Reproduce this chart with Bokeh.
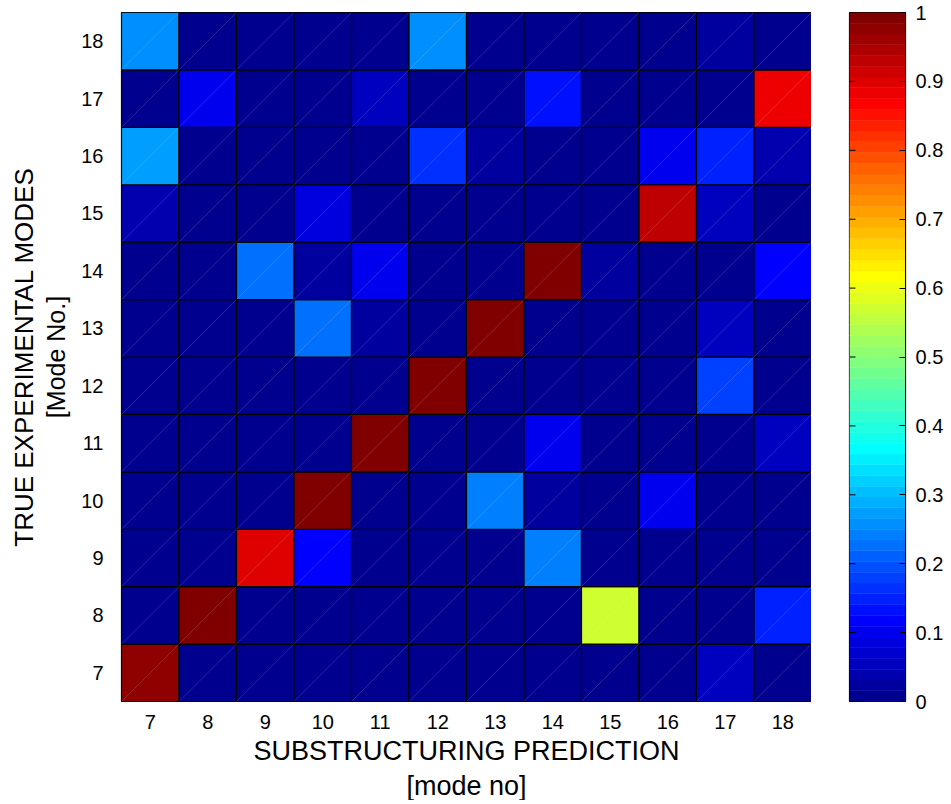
import numpy as np
from bokeh.plotting import figure
from bokeh.models import (ColumnDataSource, FixedTicker, LinearColorMapper, Title,
                          CustomJSTickFormatter)
from bokeh.layouts import row
from bokeh.embed import file_html
from bokeh.resources import INLINE

# ---------------- data ----------------
pred_modes = [7, 8, 9, 10, 11, 12, 13, 14, 15, 16, 17, 18]
true_modes = [7, 8, 9, 10, 11, 12, 13, 14, 15, 16, 17, 18]

# values per true experimental mode, across predicted modes 7..18
true_7  = [0.977, 0.01, 0.01, 0.01, 0.01, 0.01, 0.01, 0.01, 0.01, 0.01, 0.055, 0.01]
true_8  = [0.01, 1.0, 0.01, 0.01, 0.01, 0.01, 0.01, 0.01, 0.57, 0.01, 0.01, 0.155]
true_9  = [0.01, 0.01, 0.898, 0.117, 0.01, 0.01, 0.01, 0.245, 0.01, 0.01, 0.01, 0.01]
true_10 = [0.01, 0.01, 0.01, 1.0, 0.01, 0.01, 0.235, 0.025, 0.01, 0.10, 0.01, 0.01]
true_11 = [0.01, 0.01, 0.01, 0.01, 1.0, 0.01, 0.01, 0.10, 0.01, 0.01, 0.01, 0.05]
true_12 = [0.01, 0.01, 0.01, 0.01, 0.01, 1.0, 0.01, 0.01, 0.01, 0.01, 0.18, 0.01]
true_13 = [0.01, 0.01, 0.01, 0.23, 0.02, 0.01, 1.0, 0.01, 0.01, 0.01, 0.05, 0.01]
true_14 = [0.01, 0.01, 0.227, 0.025, 0.095, 0.01, 0.01, 1.0, 0.02, 0.01, 0.01, 0.117]
true_15 = [0.04, 0.01, 0.01, 0.09, 0.01, 0.01, 0.01, 0.01, 0.01, 0.93, 0.055, 0.01]
true_16 = [0.27, 0.01, 0.01, 0.01, 0.01, 0.165, 0.02, 0.01, 0.01, 0.10, 0.15, 0.04]
true_17 = [0.01, 0.10, 0.01, 0.01, 0.055, 0.01, 0.01, 0.14, 0.01, 0.01, 0.01, 0.883]
true_18 = [0.25, 0.01, 0.01, 0.01, 0.01, 0.25, 0.01, 0.01, 0.01, 0.01, 0.03, 0.01]

rows_by_mode = [true_7, true_8, true_9, true_10, true_11, true_12,
                true_13, true_14, true_15, true_16, true_17, true_18]

cbar_ticks = [0, 0.1, 0.2, 0.3, 0.4, 0.5, 0.6, 0.7, 0.8, 0.9, 1]

# ---------------- matlab jet(64) colormap ----------------
def matlab_jet(m=64):
    n = int(np.ceil(m / 4))
    u = np.concatenate([np.arange(1, n + 1) / n, np.ones(n - 1), np.arange(n, 0, -1) / n])
    g = int(np.ceil(n / 2)) - (1 if m % 4 == 1 else 0) + np.arange(1, len(u) + 1)
    r = g + n
    b = g - n
    J = np.zeros((m, 3))
    for idx, col in ((r, 0), (g, 1), (b, 2)):
        ok = (idx >= 1) & (idx <= m)
        J[idx[ok] - 1, col] = u[ok]
    return ["#%02x%02x%02x" % tuple(int(round(c * 255)) for c in rgb) for rgb in J]

jet64 = matlab_jet(64)
mapper = LinearColorMapper(palette=jet64, low=0, high=1)

# ---------------- heatmap ----------------
xs, ys, vals = [], [], []
for tm, rv in zip(true_modes, rows_by_mode):
    for pm, v in zip(pred_modes, rv):
        xs.append(pm)
        ys.append(tm)
        vals.append(v)
src = ColumnDataSource(dict(
    x=xs, y=ys, v=vals,
    x0=[x - 0.5 for x in xs], y0=[y - 0.5 for y in ys],
    x1=[x + 0.5 for x in xs], y1=[y + 0.5 for y in ys],
))

FONT = "Liberation Sans"
TOP = 12
FRAME_H = 689

p = figure(frame_width=690, frame_height=FRAME_H,
           x_range=(min(pred_modes) - 0.5, max(pred_modes) + 0.5),
           y_range=(min(true_modes) - 0.5, max(true_modes) + 0.5),
           output_backend="svg", toolbar_location=None,
           min_border_left=121, min_border_right=0, min_border_top=TOP, min_border_bottom=60)
p.rect(x="x", y="y", width=1, height=1, source=src,
       fill_color={"field": "v", "transform": mapper},
       line_color="black", line_width=1.2)
p.segment(x0="x0", y0="y0", x1="x1", y1="y1", source=src,
          line_color="white", line_alpha=0.22, line_width=0.7)

p.grid.visible = False
p.outline_line_color = "black"
p.outline_line_width = 1.2
p.background_fill_color = "white"

for ax, ticks in ((p.xaxis[0], pred_modes), (p.yaxis[0], true_modes)):
    ax.ticker = FixedTicker(ticks=ticks)
    ax.major_tick_in = 0
    ax.major_tick_out = 0
    ax.minor_tick_in = 0
    ax.minor_tick_out = 0
    ax.axis_line_color = None
    ax.major_label_text_font = FONT
    ax.major_label_text_font_size = "20px"
    ax.major_label_text_color = "black"
    ax.axis_label_text_font = FONT
    ax.axis_label_text_font_style = "normal"
    ax.axis_label_text_color = "black"

p.xaxis.major_label_standoff = 13
p.xaxis.axis_label = "SUBSTRUCTURING PREDICTION"
p.xaxis.axis_label_text_font_size = "27px"
p.xaxis.axis_label_standoff = 4

p.yaxis.major_label_standoff = 18
p.yaxis.axis_label = "[Mode No.]"
p.yaxis.axis_label_text_font_size = "25px"
p.yaxis.axis_label_standoff = 8

p.add_layout(Title(text="[mode no]", align="center", text_font=FONT,
                   text_font_size="27px", text_font_style="normal",
                   text_color="black", standoff=0, offset=0), "below")
p.add_layout(Title(text="TRUE EXPERIMENTAL MODES", align="center", text_font=FONT,
                   text_font_size="26px", text_font_style="normal",
                   text_color="black", standoff=2), "left")

# ---------------- colorbar ----------------
levels = np.linspace(0, 1, len(jet64) + 1)
cb_src = ColumnDataSource(dict(bottom=levels[:-1], top=levels[1:], color=jet64))
cb = figure(frame_width=56, frame_height=FRAME_H, x_range=(0, 1), y_range=(0, 1),
            output_backend="svg", toolbar_location=None,
            x_axis_location=None, y_axis_location="right",
            min_border_left=38, min_border_right=36, min_border_top=TOP, min_border_bottom=60)
cb.quad(left=0, right=1, bottom="bottom", top="top", color="color", source=cb_src,
        line_color="color", line_width=0.5)
# inner tick marks on the left edge of the bar
tick_len = 6 / 56
cb.segment(x0=0, x1=tick_len, y0=cbar_ticks, y1=cbar_ticks, line_color="black", line_width=1)
cb.grid.visible = False
cb.outline_line_color = "black"
cb.outline_line_width = 1.2

ax_r = cb.yaxis[0]
ax_r.ticker = FixedTicker(ticks=cbar_ticks)
ax_r.formatter = CustomJSTickFormatter(code="return String(Math.round(tick*10)/10);")
ax_r.major_tick_in = 6
ax_r.major_tick_out = 0
ax_r.minor_tick_in = 0
ax_r.minor_tick_out = 0
ax_r.axis_line_color = "black"
ax_r.major_tick_line_color = "black"
ax_r.major_label_text_font = FONT
ax_r.major_label_text_font_size = "20px"
ax_r.major_label_text_color = "black"
ax_r.major_label_standoff = 10

layout = row(p, cb)
open("out.html", "w").write(file_html(layout, INLINE))
